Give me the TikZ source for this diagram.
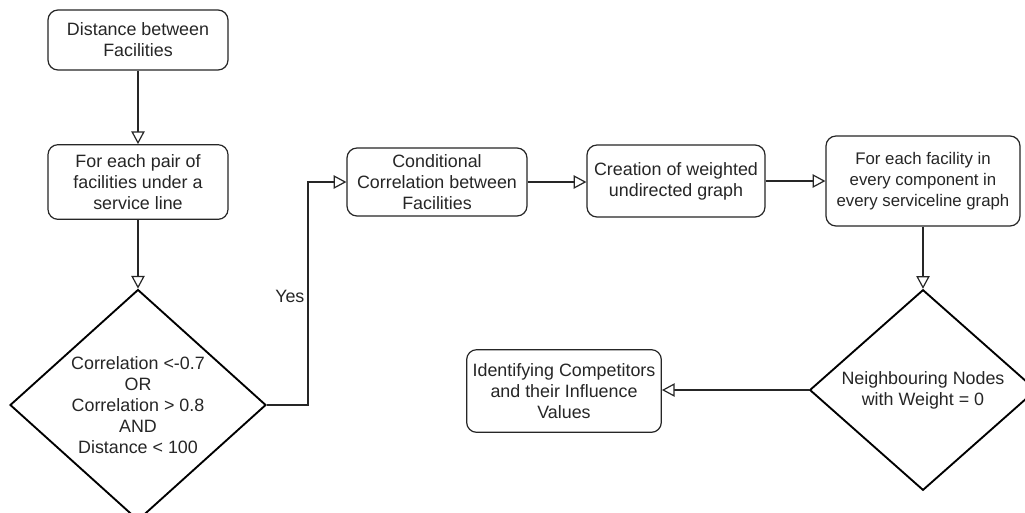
\documentclass[tikz,border=0pt]{standalone}
\usepackage{fontspec}
\setmainfont{Liberation Sans}
\usetikzlibrary{arrows.meta,shapes.geometric}
\begin{document}
\begin{tikzpicture}[x=0.75pt,y=-0.75pt,
  every node/.style={font=\fontsize{13.4pt}{15.8pt}\selectfont, text=black!85},
  box/.style={draw=black!85, line width=0.9pt, rounded corners=7.5pt, align=center, inner sep=2pt},
  dia/.style={draw=black, line width=1.4pt, diamond, align=center, inner sep=0pt},
  conn/.style={draw=black!85, line width=0.9pt, -{Triangle[open, length=9.5pt, width=10pt, fill=white]}},
  plain/.style={draw=black!85, line width=0.9pt}
]
\useasboundingbox (0,0) rectangle (1025,512);
\fill[white] (0,0) rectangle (1025,512);

\node[box, minimum width=135pt, minimum height=45pt] (b1) at (138,40) {Distance between\\Facilities};
\node[box, minimum width=135pt, minimum height=56pt] (b2) at (138,182) {For each pair of\\facilities under a\\service line};
\node[dia, minimum width=192pt, minimum height=168pt] (d1) at (138,405) {Correlation <-0.7\\OR\\Correlation > 0.8\\AND\\Distance < 100};
\node[box, minimum width=135pt, minimum height=51pt] (b3) at (437,182) {Conditional\\Correlation between\\Facilities};
\node[box, minimum width=133.5pt, minimum height=54pt] (b4) at (676,181) {Creation of weighted\\undirected graph};
\node[box, minimum width=145.5pt, minimum height=67.5pt, font=\fontsize{12.6pt}{15.8pt}\selectfont] (b5) at (923,181) {For each facility in\\every component in\\every serviceline graph};
\node[dia, minimum width=170pt, minimum height=146pt] (d2) at (923,390) {Neighbouring Nodes\\with Weight = 0};
\node[box, minimum width=146pt, minimum height=62pt] (b6) at (564,391) {Identifying Competitors\\and their Influence\\Values};

\coordinate (ya) at (308,405);
\coordinate (yb) at (308,182);

\draw[conn] (b1.south) -- (b2.north);
\draw[conn] (b2.south) -- (d1.north);
\draw[conn] (d1.east) -- (ya) -- (yb) -- (b3.west);
\node[anchor=east, inner sep=1pt] (yes) at (306,296) {Yes};
\draw[conn] (b3.east) -- (b3.east -| b4.west);
\draw[conn] (b4.east) -- (b4.east -| b5.west);
\draw[conn] (b5.south) -- (d2.north);
\draw[conn] (d2.west) -- (d2.west -| b6.east);
\end{tikzpicture}
\end{document}
